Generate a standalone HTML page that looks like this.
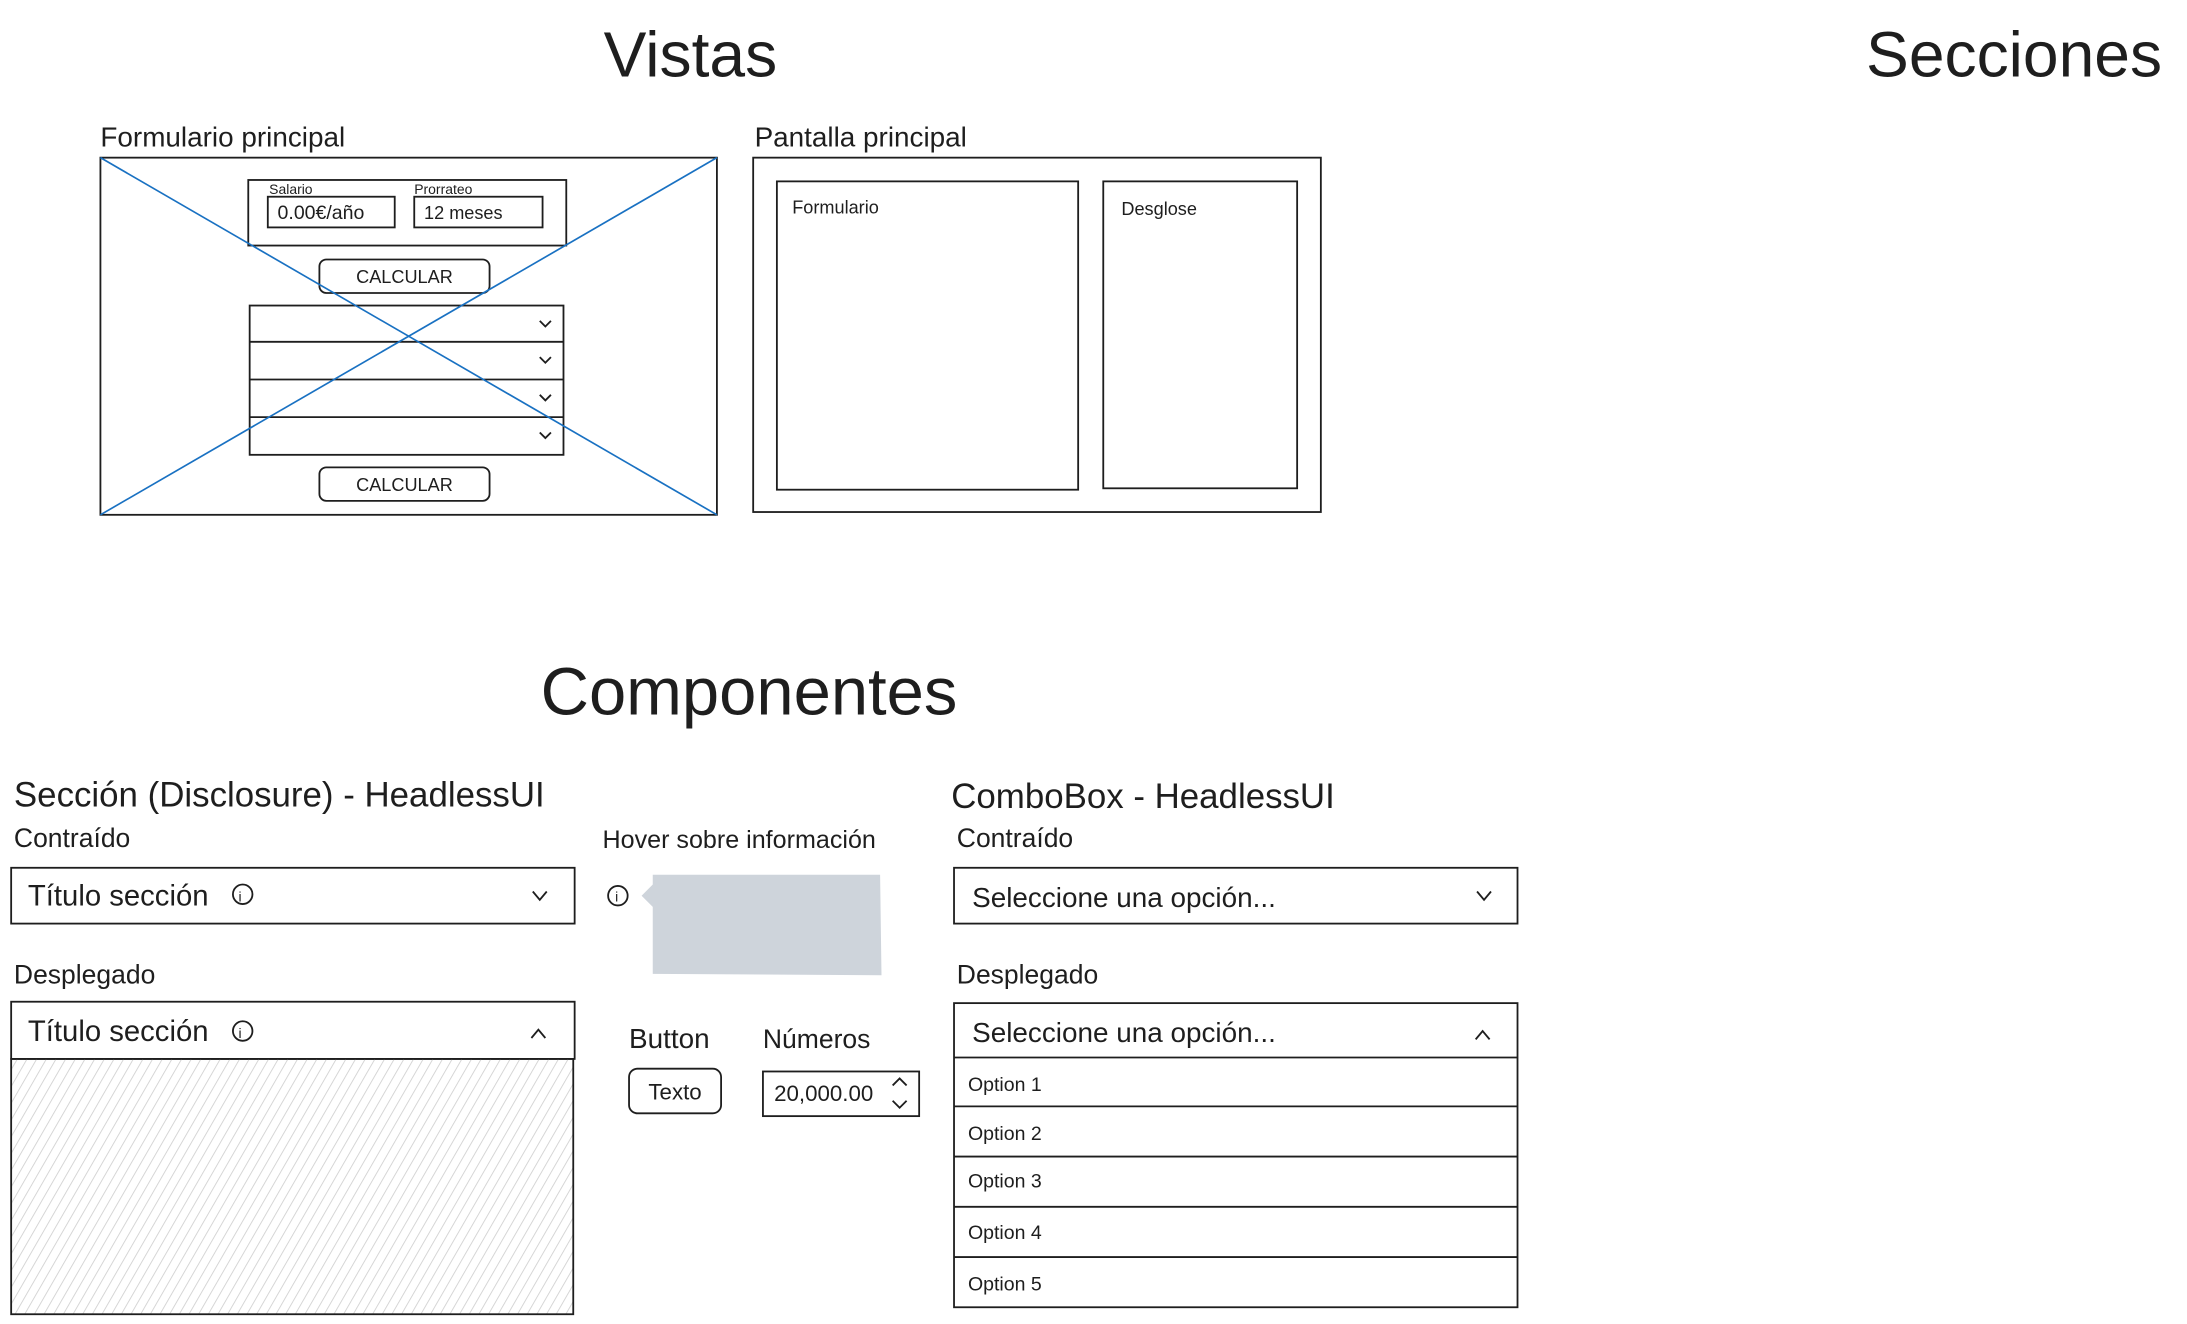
<!DOCTYPE html>
<html><head><meta charset="utf-8"><style>
html,body{margin:0;padding:0;background:#fff;width:2187px;height:1324px;overflow:hidden}
svg{display:block}
text{font-family:"Liberation Sans",sans-serif;fill:#1e1e1e}
</style></head><body>
<svg width="2187" height="1324" viewBox="0 0 1568 949" preserveAspectRatio="none" xmlns="http://www.w3.org/2000/svg">
<defs>
<pattern id="h" width="6" height="6" patternUnits="userSpaceOnUse" patternTransform="rotate(30)">
<line x1="0" y1="0" x2="0" y2="6" stroke="#cfcfcf" stroke-width="1.2"/>
</pattern>
</defs>
<g fill="none" stroke="#1e1e1e" stroke-width="1.3">
<rect x="72" y="113" width="442" height="256"/>
<rect x="178" y="129" width="228" height="47"/>
<rect x="192" y="141" width="91" height="22"/>
<rect x="297" y="141" width="92" height="22"/>
<rect x="229" y="186" width="122" height="24" rx="5"/>
<rect x="179" y="219" width="225" height="107"/>
<line x1="179" y1="245" x2="404" y2="245"/>
<line x1="179" y1="272" x2="404" y2="272"/>
<line x1="179" y1="299" x2="404" y2="299"/>
<path d="M387 230l4 4 4-4M387 256l4 4 4-4M387 283l4 4 4-4M387 310l4 4 4-4"/>
<rect x="229" y="335" width="122" height="24" rx="5"/>
<rect x="540" y="113" width="407" height="254"/>
<rect x="557" y="130" width="216" height="221"/>
<rect x="791" y="130" width="139" height="220"/>
<rect x="8" y="622" width="404" height="40"/>
<path d="M382 639l5 6 5-6"/>
<circle cx="174" cy="641" r="7"/>
<circle cx="443" cy="642" r="7"/>
<rect x="8" y="718" width="404" height="41"/>
<path d="M381 744l5-6 5 6"/>
<circle cx="174" cy="739" r="7"/>
<rect x="451" y="766" width="66" height="32" rx="6"/>
<rect x="547" y="768" width="112" height="32"/>
<path d="M640 778l5-5 5 5M640 789l5 5 5-5"/>
<rect x="684" y="622" width="404" height="40"/>
<path d="M1059 639l5 6 5-6"/>
<rect x="684" y="719" width="404" height="218"/>
<line x1="684" y1="758" x2="1088" y2="758"/>
<line x1="684" y1="793" x2="1088" y2="793"/>
<line x1="684" y1="829" x2="1088" y2="829"/>
<line x1="684" y1="865" x2="1088" y2="865"/>
<line x1="684" y1="901" x2="1088" y2="901"/>
<path d="M1058 745l5-6 5 6"/>
</g>
<g stroke="#1971c2" stroke-width="1.2">
<line x1="72" y1="113" x2="514" y2="369"/>
<line x1="514" y1="113" x2="72" y2="369"/>
</g>
<rect x="8" y="759" width="403" height="183" fill="url(#h)" stroke="#1e1e1e" stroke-width="1.3"/>
<polygon points="468,627 631,627 632,699 468,698 468,650 460,642 468,634" fill="#ced4db"/>
<g>
<text x="495" y="55" font-size="46" text-anchor="middle">Vistas</text>
<text x="1444" y="55" font-size="46" text-anchor="middle">Secciones</text>
<text x="72" y="105" font-size="20">Formulario principal</text>
<text x="541" y="105" font-size="20">Pantalla principal</text>
<text x="193" y="139" font-size="10">Salario</text>
<text x="297" y="139" font-size="10">Prorrateo</text>
<text x="199" y="157" font-size="14">0.00€/año</text>
<text x="304" y="157" font-size="13">12 meses</text>
<text x="290" y="203" font-size="13" text-anchor="middle">CALCULAR</text>
<text x="290" y="352" font-size="13" text-anchor="middle">CALCULAR</text>
<text x="568" y="153" font-size="13">Formulario</text>
<text x="804" y="154" font-size="13">Desglose</text>
<text x="537" y="512" font-size="48" text-anchor="middle">Componentes</text>
<text x="10" y="578" font-size="25">Sección (Disclosure) - HeadlessUI</text>
<text x="10" y="607" font-size="19">Contraído</text>
<text x="20" y="649" font-size="21">Título sección</text>
<text x="171" y="646" font-size="10">i</text>
<text x="441" y="646" font-size="10">i</text>
<text x="432" y="608" font-size="18">Hover sobre información</text>
<text x="10" y="705" font-size="19">Desplegado</text>
<text x="20" y="746" font-size="21">Título sección</text>
<text x="171" y="744" font-size="10">i</text>
<text x="451" y="751" font-size="20">Button</text>
<text x="547" y="751" font-size="19">Números</text>
<text x="484" y="788" font-size="16" text-anchor="middle">Texto</text>
<text x="555" y="789" font-size="16">20,000.00</text>
<text x="682" y="579" font-size="25">ComboBox - HeadlessUI</text>
<text x="686" y="607" font-size="19">Contraído</text>
<text x="697" y="650" font-size="20">Seleccione una opción...</text>
<text x="686" y="705" font-size="19">Desplegado</text>
<text x="697" y="747" font-size="20">Seleccione una opción...</text>
<text x="694" y="782" font-size="14">Option 1</text>
<text x="694" y="817" font-size="14">Option 2</text>
<text x="694" y="851" font-size="14">Option 3</text>
<text x="694" y="888" font-size="14">Option 4</text>
<text x="694" y="925" font-size="14">Option 5</text>
</g>
</svg>
</body></html>
